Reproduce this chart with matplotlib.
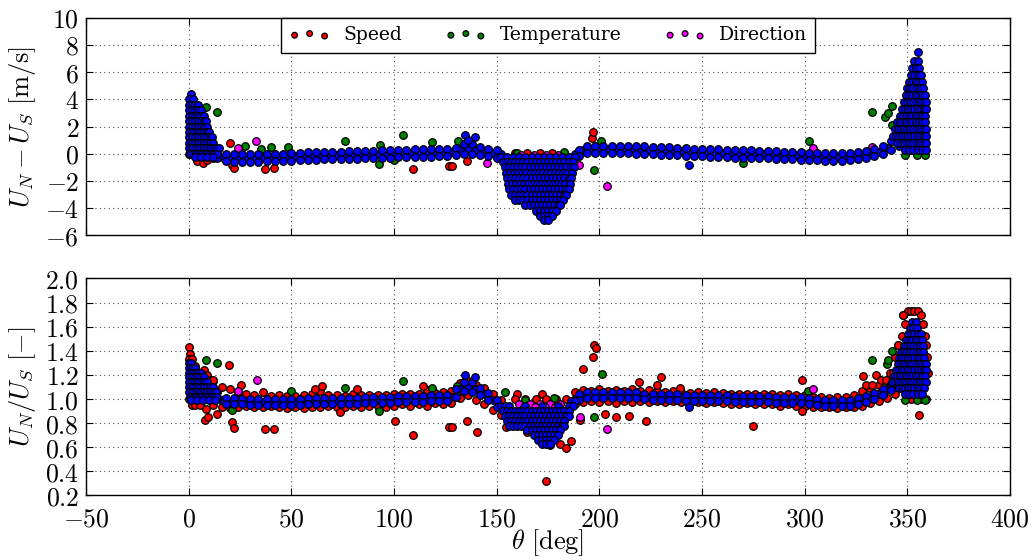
import matplotlib
matplotlib.use('Agg')
import matplotlib.pyplot as plt
from matplotlib.ticker import FuncFormatter, MultipleLocator

plt.rcParams['font.family'] = ['DejaVu Serif']
plt.rcParams['mathtext.fontset'] = 'cm'

# ---------------- data: band samples (theta in deg) ----------------
theta_a = [12, 16, 20, 24, 28, 32, 36, 40, 44, 48, 52, 56, 60, 64, 68, 72, 76, 80, 84, 88,
           92, 96, 100, 104, 108, 112, 116, 120, 124, 128, 132, 136, 140, 144, 148, 152,
           188, 192, 196, 200, 204, 208, 212, 216, 220, 224, 228, 232, 236, 240, 244, 248,
           252, 256, 260, 264, 268, 272, 276, 280, 284, 288, 292, 296, 300, 304, 308, 312,
           316, 320, 324, 328, 332, 336, 340, 344]
theta_b = [14, 18, 22, 26, 30, 34, 38, 42, 46, 50, 54, 58, 62, 66, 70, 74, 78, 82, 86, 90,
           94, 98, 102, 106, 110, 114, 118, 122, 126, 130, 134, 138, 142, 146, 150,
           190, 194, 198, 202, 206, 210, 214, 218, 222, 226, 230, 234, 238, 242, 246, 250,
           254, 258, 262, 266, 270, 274, 278, 282, 286, 290, 294, 298, 302, 306, 310, 314,
           318, 322, 326, 330, 334, 338, 342, 346]

# top panel: U_N - U_S [m/s]
diff_mid = [-0.15, -0.25, -0.3, -0.3, -0.3, -0.3, -0.28, -0.27, -0.25, -0.23, -0.2, -0.18,
            -0.15, -0.13, -0.12, -0.1, -0.08, -0.07, -0.05, -0.03, 0.0, 0.0, 0.02, 0.05, 0.05,
            0.07, 0.08, 0.1, 0.1, 0.12, 0.25, 0.35, 0.3, 0.15, 0.05, -0.05,
            0.0, 0.3, 0.35, 0.35, 0.35, 0.35, 0.33, 0.3, 0.3, 0.28, 0.25, 0.22, 0.2, 0.18, 0.15,
            0.12, 0.1, 0.08, 0.05, 0.03, 0.0, 0.0, -0.02, -0.05, -0.05, -0.08, -0.1, -0.12,
            -0.15, -0.18, -0.2, -0.22, -0.22, -0.2, -0.15, -0.08, 0.0, 0.15, 0.45, 0.9]
diff_hi = [0.2, -0.02, -0.05, -0.05, -0.05, -0.04, -0.03, -0.01, 0.01, 0.04, 0.06, 0.09, 0.11,
           0.13, 0.14, 0.16, 0.18, 0.19, 0.21, 0.23, 0.25, 0.26, 0.28, 0.3, 0.31, 0.32, 0.34,
           0.35, 0.36, 0.45, 0.75, 0.7, 0.5, 0.35, 0.25,
           0.3, 0.55, 0.6, 0.6, 0.6, 0.6, 0.57, 0.55, 0.54, 0.52, 0.48, 0.46, 0.44, 0.42, 0.38,
           0.36, 0.34, 0.31, 0.29, 0.26, 0.25, 0.24, 0.21, 0.2, 0.18, 0.16, 0.14, 0.11, 0.08,
           0.06, 0.03, 0.03, 0.04, 0.08, 0.14, 0.22, 0.35, 0.55, 0.9, 1.4]
diff_lo = [-0.35, -0.55, -0.6, -0.6, -0.6, -0.59, -0.57, -0.56, -0.54, -0.51, -0.49, -0.46,
           -0.44, -0.42, -0.41, -0.39, -0.37, -0.36, -0.34, -0.31, -0.3, -0.29, -0.26, -0.25,
           -0.24, -0.22, -0.21, -0.2, -0.19, -0.1, 0.0, 0.0, -0.08, -0.2, -0.3,
           -0.2, 0.05, 0.05, 0.05, 0.05, 0.04, 0.02, 0.0, -0.01, -0.04, -0.06, -0.09, -0.11,
           -0.14, -0.16, -0.19, -0.21, -0.24, -0.26, -0.29, -0.3, -0.31, -0.34, -0.35, -0.37,
           -0.39, -0.41, -0.44, -0.46, -0.49, -0.51, -0.52, -0.52, -0.48, -0.42, -0.34, -0.2,
           0.0, 0.3, 0.6]

# bottom panel: U_N / U_S [-]
ratio_mid = [1.05, 0.99, 0.98, 0.98, 0.975, 0.975, 0.975, 0.975, 0.975, 0.975, 0.975, 0.98,
             0.98, 0.98, 0.98, 0.985, 0.985, 0.985, 0.99, 0.99, 0.99, 0.99, 1.0, 1.0, 1.0, 1.0,
             1.01, 1.01, 1.01, 1.02, 1.08, 1.1, 1.08, 1.04, 0.99, 0.94,
             1.0, 1.03, 1.03, 1.03, 1.03, 1.03, 1.03, 1.03, 1.025, 1.02, 1.02, 1.02, 1.02,
             1.015, 1.01, 1.01, 1.01, 1.01, 1.01, 1.005, 1.0, 1.0, 1.0, 1.0, 0.995, 0.99, 0.99,
             0.99, 0.985, 0.98, 0.975, 0.97, 0.97, 0.97, 0.975, 0.99, 1.01, 1.04, 1.08, 1.12]
ratio_hi = [1.06, 1.01, 1.005, 1.0, 1.0, 1.0, 1.0, 1.0, 1.0, 1.0, 1.0, 1.005, 1.005, 1.005,
            1.005, 1.01, 1.01, 1.01, 1.015, 1.015, 1.015, 1.015, 1.025, 1.025, 1.025, 1.025,
            1.035, 1.035, 1.035, 1.08, 1.14, 1.14, 1.09, 1.05, 0.99,
            1.045, 1.055, 1.055, 1.055, 1.055, 1.055, 1.055, 1.055, 1.045, 1.045, 1.045, 1.045,
            1.045, 1.037, 1.035, 1.035, 1.035, 1.035, 1.035, 1.025, 1.025, 1.025, 1.025, 1.025,
            1.015, 1.015, 1.015, 1.015, 1.008, 1.003, 0.995, 0.995, 0.995, 0.995, 1.005, 1.025,
            1.05, 1.085, 1.125, 1.175]
ratio_lo = [1.0, 0.96, 0.955, 0.955, 0.95, 0.95, 0.95, 0.95, 0.95, 0.95, 0.95, 0.955, 0.955,
            0.955, 0.955, 0.96, 0.96, 0.96, 0.965, 0.965, 0.965, 0.965, 0.975, 0.975, 0.975,
            0.975, 0.985, 0.985, 0.985, 1.02, 1.07, 1.06, 1.03, 0.99, 0.93,
            0.995, 1.005, 1.005, 1.005, 1.005, 1.005, 1.005, 1.005, 1.0, 0.995, 0.995, 0.995,
            0.995, 0.987, 0.985, 0.985, 0.985, 0.985, 0.985, 0.975, 0.975, 0.975, 0.975, 0.975,
            0.965, 0.965, 0.965, 0.965, 0.958, 0.953, 0.945, 0.945, 0.945, 0.945, 0.955, 0.975,
            1.0, 1.035, 1.075, 1.125]
speed_ratio_hi = [1.15, 1.1, 1.08, 1.06, 1.04, 1.035, 1.055, 1.025, 1.03, 1.025, 1.025, 1.035,
                  1.045, 1.065, 1.035, 1.035, 1.025, 1.045, 1.035, 1.03, 1.035, 1.035, 1.045,
                  1.045, 1.04, 1.045, 1.075, 1.05, 1.055, 1.065, 1.13, 1.15, 1.12, 1.09, 1.04, 0.99,
                  1.06, 1.075, 1.07, 1.085, 1.07, 1.075, 1.065, 1.085, 1.07, 1.075, 1.065, 1.06,
                  1.065, 1.06, 1.05, 1.055, 1.05, 1.055, 1.05, 1.04, 1.045, 1.04, 1.04, 1.045,
                  1.04, 1.03, 1.04, 1.03, 1.03, 1.02, 1.02, 1.01, 1.02, 1.02, 1.035, 1.065, 1.09,
                  1.12, 1.15, 1.21]
speed_ratio_lo = [0.95, 0.935, 0.925, 0.935, 0.94, 0.935, 0.93, 0.94, 0.935, 0.925, 0.935,
                  0.925, 0.935, 0.935, 0.94, 0.935, 0.935, 0.945, 0.935, 0.945, 0.945, 0.935,
                  0.945, 0.955, 0.945, 0.955, 0.945, 0.965, 0.955, 0.965, 1.01, 1.03, 0.99, 0.96,
                  0.91, 0.87,
                  0.96, 0.975, 0.985, 0.975, 0.985, 0.965, 0.985, 0.975, 0.985, 0.975, 0.985,
                  0.975, 0.98, 0.975, 0.965, 0.975, 0.965, 0.975, 0.965, 0.96, 0.955, 0.965,
                  0.955, 0.96, 0.955, 0.945, 0.955, 0.945, 0.94, 0.935, 0.935, 0.935, 0.925,
                  0.935, 0.935, 0.945, 0.965, 0.985, 1.01, 1.04]

# ---------------- data: dense clouds, as rows (value: thetas) ----------------
# top panel, blue
spikeL_diff_lev = [4.4, 4.0, 3.6, 3.2, 2.8, 2.4, 2.0, 1.6, 1.2, 0.8, 0.4, 0.0, -0.25]
spikeL_diff_th = [[1], [0, 2], [0, 1.5, 3, 4.5], [0, 1.5, 3, 4.5, 6], [0, 1.5, 3, 4.5, 6, 7.5],
                  [0, 1.5, 3, 4.5, 6, 7.5, 8.5], [0, 1.5, 3, 4.5, 6, 7.5, 9],
                  [0, 1.5, 3, 4.5, 6, 7.5, 9, 10], [0, 1.5, 3, 4.5, 6, 7.5, 9, 10.5, 11.5],
                  [0, 1.5, 3, 4.5, 6, 7.5, 9, 10.5, 12],
                  [0, 1.5, 3, 4.5, 6, 7.5, 9, 10.5, 12, 13.5, 15],
                  [0.5, 2, 3.5, 5, 6.5, 8, 9.5, 11, 12.5, 14], [3, 6, 9, 12]]
spikeR_diff_lev = [7.5, 6.8, 6.3, 5.8, 5.3, 4.8, 4.3, 3.8, 3.3, 2.8, 2.3, 1.8, 1.3, 0.8, 0.3]
spikeR_diff_th = [[355], [353.5, 355], [352.5, 354, 355.5], [352, 353.5, 355, 356.5],
                  [351, 352.5, 354, 355.5, 357], [350, 351.5, 353, 354.5, 356, 357.5],
                  [349.5, 351, 352.5, 354, 355.5, 357, 358.5],
                  [348.5, 350, 351.5, 353, 354.5, 356, 357.5, 359],
                  [347.5, 349, 350.5, 352, 353.5, 355, 356.5, 358, 359],
                  [346.5, 348, 349.5, 351, 352.5, 354, 355.5, 357, 358.5],
                  [345, 346.5, 348, 349.5, 351, 352.5, 354, 355.5, 357, 358.5],
                  [344, 345.5, 347, 348.5, 350, 351.5, 353, 354.5, 356, 357.5, 359],
                  [343, 344.5, 346, 347.5, 349, 350.5, 352, 353.5, 355, 356.5, 358, 359],
                  [345, 347, 348.5, 350, 351.5, 353, 354.5, 356, 357.5, 359],
                  [349, 351, 353, 355, 357, 359]]
dip_diff_lev = [-0.25, -0.6, -1.0, -1.4, -1.8, -2.2, -2.6, -3.0, -3.4, -3.8, -4.2, -4.6, -4.9]
dip_diff_th = [[152, 155, 158, 161, 164, 167, 170, 173, 176, 179, 182, 185, 188],
               [153, 155, 157, 159, 161, 163, 165, 167, 169, 171, 173, 175, 177, 179, 181, 183, 185, 187],
               [154, 156, 158, 160, 162, 164, 166, 168, 170, 172, 174, 176, 178, 180, 182, 184, 186, 187.5],
               [154.5, 156.5, 158.5, 160.5, 162.5, 164.5, 166.5, 168.5, 170.5, 172.5, 174.5, 176.5,
                178.5, 180.5, 182.5, 184.5, 186.5],
               [155, 157, 159, 161, 163, 165, 167, 169, 171, 173, 175, 177, 179, 181, 183, 185, 186],
               [155.5, 157.5, 159.5, 161.5, 163.5, 165.5, 167.5, 169.5, 171.5, 173.5, 175.5, 177.5,
                179.5, 181.5, 183.5, 185.5],
               [156, 158, 160, 162, 164, 166, 168, 170, 172, 174, 176, 178, 180, 182, 184, 185],
               [157, 159, 161, 163, 165, 167, 169, 171, 173, 175, 177, 179, 181, 183, 184],
               [159, 161, 163, 165, 167, 169, 171, 173, 175, 177, 179, 181, 182.5],
               [164, 166, 168, 170, 172, 174, 176, 178, 180, 181],
               [169, 171, 173, 175, 177, 179],
               [171, 173, 175, 177], [173, 175]]
# bottom panel, blue
spikeL_ratio_lev = [1.30, 1.26, 1.22, 1.18, 1.14, 1.10, 1.06, 1.02, 0.99]
spikeL_ratio_th = [[0, 1.2], [0, 1.5, 3], [0, 1.5, 3, 4.5, 6], [0, 1.5, 3, 4.5, 6, 7.5],
                   [0, 1.5, 3, 4.5, 6, 7.5, 9], [0, 1.5, 3, 4.5, 6, 7.5, 9, 10.5, 12],
                   [0, 1.5, 3, 4.5, 6, 7.5, 9, 10.5, 12, 13.5],
                   [0.5, 2, 3.5, 5, 6.5, 8, 9.5, 11, 12.5, 14], [1, 4, 7, 10, 13]]
spikeR_ratio_lev = [1.64, 1.59, 1.54, 1.49, 1.44, 1.39, 1.34, 1.29, 1.24, 1.19, 1.14, 1.09, 1.04]
spikeR_ratio_th = [[352.5, 354], [351.5, 353, 354.5], [350.5, 352, 353.5, 355, 356.5],
                   [349.5, 351, 352.5, 354, 355.5, 357],
                   [348.5, 350, 351.5, 353, 354.5, 356, 357.5],
                   [347, 348.5, 350, 351.5, 353, 354.5, 356, 357.5],
                   [346, 347.5, 349, 350.5, 352, 353.5, 355, 356.5, 358],
                   [345.5, 347, 348.5, 350, 351.5, 353, 354.5, 356, 357.5, 359],
                   [344.5, 346, 347.5, 349, 350.5, 352, 353.5, 355, 356.5, 358, 359],
                   [343.5, 345, 346.5, 348, 349.5, 351, 352.5, 354, 355.5, 357, 358.5],
                   [342.5, 344, 345.5, 347, 348.5, 350, 351.5, 353, 354.5, 356, 357.5, 359],
                   [346, 347.5, 349, 350.5, 352, 353.5, 355, 356.5, 358],
                   [349, 351, 353, 355, 357]]
dip_ratio_lev = [0.98, 0.94, 0.90, 0.86, 0.82, 0.78, 0.74, 0.70, 0.66, 0.63]
dip_ratio_th = [[186, 188], [152, 154, 156, 164, 172, 180, 185, 187],
                [153, 155, 157, 159, 161, 163, 165, 167, 169, 171, 173, 175, 177, 179, 181, 183, 185],
                [154, 156, 158, 160, 162, 164, 166, 168, 170, 172, 174, 176, 178, 180, 182, 184, 185],
                [155, 157, 159, 161, 163, 165, 167, 169, 171, 173, 175, 177, 179, 181, 183],
                [156, 158, 160, 162, 164, 166, 168, 170, 172, 174, 176, 178, 180, 182, 183],
                [165, 167, 169, 171, 173, 175, 177, 179, 181],
                [168, 170, 172, 174, 176, 178, 180],
                [170, 172, 174, 176, 178], [172, 174, 176]]

# speed (red) clouds
speed_diff_lev = [0.05]
speed_diff_th = [[159, 165, 171, 177, 183]]
speed_ratio_lev = [1.73, 1.70, 1.62, 1.52, 1.45, 1.35, 1.22, 1.16, 1.12, 1.04, 1.0]
speed_ratio_th = [[350.5, 352, 353.5, 355], [348, 356.5], [349, 357.5], [347.5, 358.5],
                  [345.5, 359], [344, 359.5], [341.5, 343, 360], [337, 339.5], [330, 333],
                  [160, 172], [159, 164, 169, 174, 179, 184, 352, 356, 359]]
# direction (magenta) clouds
dir_diff_lev = [-0.1]
dir_diff_th = [[162, 168, 174, 180]]
dir_ratio_lev = [0.96, 0.93]
dir_ratio_th = [[161, 166, 171, 176, 181], [163.5, 168.5, 173.5, 178.5]]

# ---------------- data: scattered points ----------------
speed_diff_out_t = [4, 7, 9, 12, 20.1, 21, 22, 37.1, 41.8, 109.5, 126.9, 128.2, 135.5, 185,
                    196.6, 197.1, 350, 352, 355, 357]
speed_diff_out_v = [-0.55, -0.7, -0.45, -0.3, 0.79, -0.8, -1.05, -1.13, -1.05, -1.1, -0.93,
                    -0.93, -0.56, -1.54, 1.15, 1.6, 0.5, 0.3, 0.4, 0.2]
temp_diff_out_t = [0, 3, 8.3, 13.7, 27.3, 35.4, 40, 48.4, 76.3, 92.6, 93.3, 100.2, 104.6, 118.4,
                   131.4, 160, 183, 197.5, 201, 270, 302, 332.8, 339, 340.5, 342.4, 342.6,
                   349, 354.6, 358.4]
temp_diff_out_v = [0.0, -0.1, 3.4, 3.1, 0.6, 0.35, 0.5, 0.5, 0.9, -0.76, 0.66, -0.44, 1.4, 0.83,
                   0.9, 0.05, 0.1, -1.22, 0.9, -0.7, 0.9, 3.1, 2.7, 3.0, 3.5, 2.1,
                   -0.1, -0.1, -0.1]
dir_diff_out_t = [2.3, 24, 33, 145.2, 190, 203.6, 304, 332.8, 351.5]
dir_diff_out_v = [0.17, 0.4, 0.9, -0.68, -0.8, -2.4, 0.4, 0.5, 0.35]
blue_diff_out_t = [134.5, 139.5, 136, 243.8]
blue_diff_out_v = [1.35, 1.25, 1.0, -0.8]

speed_ratio_out_t = [0.3, 0.5, 0, 1.5, 3, 7.5, 9, 10.5, 12, 1.5, 3, 5.3, 7.8, 9.2, 8.3, 13.7,
                     19.8, 21, 22, 25.7, 37, 41.8, 61.5, 64.8, 73.8, 81.9, 100.5, 109.5, 114.3,
                     127, 128.2, 135.5, 140.4, 154.6, 165, 174.1, 176, 181, 183.9, 186.3, 190.6,
                     192.2, 196.7, 197.4, 198.2, 202.9, 208.2, 214.7, 219.5, 222.8, 228, 229.9,
                     239.4, 275, 298.6, 298.7, 328.4, 334.9, 345.4, 348, 355.6]
speed_ratio_out_v = [1.43, 1.37, 1.33, 1.33, 1.27, 1.24, 1.2, 1.16, 1.16, 0.95, 0.95, 0.95,
                     0.83, 0.85, 0.92, 0.88, 1.28, 0.81, 0.76, 1.12, 0.75, 0.75, 1.08, 1.11,
                     0.89, 1.08, 0.82, 0.7, 1.11, 0.77, 0.77, 0.82, 0.73, 0.77, 0.73, 0.32,
                     0.62, 0.63, 0.59, 0.65, 0.83, 1.25, 1.35, 1.45, 1.42, 0.88, 0.85, 0.86,
                     1.14, 0.82, 1.12, 1.18, 1.09, 0.78, 0.9, 1.16, 1.19, 1.2, 1.45, 1.7, 0.87]
temp_ratio_out_t = [0, 6.3, 8.3, 13.7, 20.9, 50, 76.3, 92.9, 104.6, 118.4, 130.9, 154, 164, 178,
                    197.6, 201.2, 301.5, 332.8, 340.1, 340.6, 342.4, 349, 354.3, 354.7, 358.4]
temp_ratio_out_v = [1.0, 1.0, 1.32, 1.3, 0.91, 1.07, 1.09, 0.9, 1.15, 1.09, 1.11, 1.06, 0.99,
                    1.01, 0.85, 1.21, 1.07, 1.32, 1.29, 1.32, 1.4, 0.99, 1.09, 0.99, 0.99]
dir_ratio_out_t = [2.3, 3, 24, 33.2, 190.6, 203.7, 304.1, 351.5]
dir_ratio_out_v = [1.0, 1.03, 1.07, 1.16, 0.85, 0.75, 1.08, 1.08]
blue_ratio_out_t = [134.7, 139.5, 243.8]
blue_ratio_out_v = [1.2, 1.18, 0.93]

x_ticks = [-50, 0, 50, 100, 150, 200, 250, 300, 350, 400]
legend_labels = ['Speed', 'Temperature', 'Direction']


def rows(levels, thetas):
    xs, ys = [], []
    for lev, th in zip(levels, thetas):
        xs += list(th)
        ys += [lev] * len(th)
    return xs, ys


RED, GREEN, MAG, BLUE = '#ff0000', '#007f00', '#ff00ff', '#0000ff'
S, LW = 30, 0.9

fig = plt.figure(figsize=(10.35, 5.6), dpi=100)
ax1 = fig.add_axes([0.0831, 0.5798, 0.8927, 0.3886])
ax2 = fig.add_axes([0.0831, 0.1152, 0.8927, 0.3875])


def draw(ax, red, green, mag, blue):
    hs = []
    for (xs, ys), c, lab in zip([red, green, mag], [RED, GREEN, MAG], legend_labels):
        hs.append(ax.scatter(xs, ys, s=S, c=c, edgecolors='k', linewidths=LW, label=lab, zorder=3))
    ax.scatter(blue[0], blue[1], s=S, c=BLUE, edgecolors='k', linewidths=LW, zorder=4)
    return hs

# top panel
r = rows(speed_diff_lev, speed_diff_th)
red1 = (speed_diff_out_t + r[0], speed_diff_out_v + r[1])
g1 = (temp_diff_out_t, temp_diff_out_v)
m = rows(dir_diff_lev, dir_diff_th)
m1 = (dir_diff_out_t + m[0], dir_diff_out_v + m[1])
bx = theta_a + theta_b + theta_b + blue_diff_out_t
by = diff_mid + diff_hi + diff_lo + blue_diff_out_v
for lev, th in [(spikeL_diff_lev, spikeL_diff_th), (spikeR_diff_lev, spikeR_diff_th),
                (dip_diff_lev, dip_diff_th)]:
    a, b = rows(lev, th)
    bx += a
    by += b
handles = draw(ax1, red1, g1, m1, (bx, by))

# bottom panel
r = rows(speed_ratio_lev, speed_ratio_th)
red2 = (theta_a + theta_a + speed_ratio_out_t + r[0],
        speed_ratio_hi + speed_ratio_lo + speed_ratio_out_v + r[1])
g2 = (temp_ratio_out_t, temp_ratio_out_v)
m = rows(dir_ratio_lev, dir_ratio_th)
m2 = (dir_ratio_out_t + m[0], dir_ratio_out_v + m[1])
bx = theta_a + theta_b + theta_b + blue_ratio_out_t
by = ratio_mid + ratio_hi + ratio_lo + blue_ratio_out_v
for lev, th in [(spikeL_ratio_lev, spikeL_ratio_th), (spikeR_ratio_lev, spikeR_ratio_th),
                (dip_ratio_lev, dip_ratio_th)]:
    a, b = rows(lev, th)
    bx += a
    by += b
draw(ax2, red2, g2, m2, (bx, by))

for ax in (ax1, ax2):
    ax.set_xlim(-50, 400)
    ax.set_xticks(x_ticks)
    ax.grid(True, color='0.3', linestyle=(0, (1, 3)), linewidth=0.8)
    ax.set_axisbelow(True)
    ax.tick_params(direction='in', top=True, right=True, length=5, width=0.8,
                   labelsize=18.5, pad=5)
    for sp in ax.spines.values():
        sp.set_linewidth(1.0)

ax1.set_ylim(-6, 10)
ax1.yaxis.set_major_locator(MultipleLocator(2))
ax1.yaxis.set_major_formatter(FuncFormatter(lambda v, p: '$%d$' % round(v)))
ax1.tick_params(labelbottom=False)
ax2.set_ylim(0.2, 2.0)
ax2.set_yticks([0.2, 0.4, 0.6, 0.8, 1.0, 1.2, 1.4, 1.6, 1.8, 2.0])
ax2.yaxis.set_major_formatter(FuncFormatter(lambda v, p: '$%.1f$' % v))
ax2.xaxis.set_major_formatter(FuncFormatter(lambda v, p: '$%d$' % round(v)))
ax2.tick_params(axis='x', pad=8)

ax1.set_ylabel(r'$U_N - U_S\ [\mathrm{m/s}]$', fontsize=19, labelpad=5)
ax2.set_ylabel(r'$U_N/U_S\ [\mathrm{-}]$', fontsize=19, labelpad=5)
ax2.set_xlabel(r'$\theta\ [\mathrm{deg}]$', fontsize=19)
ax2.xaxis.label.set_va('center')
ax2.xaxis.set_label_coords(0.5, -0.215)
fig.align_ylabels([ax1, ax2])

leg = ax1.legend(handles=handles, loc='upper center', ncol=3, scatterpoints=3,
                 scatteryoffsets=[0.375, 0.5, 0.3125], markerscale=0.75, fontsize=13.5,
                 frameon=True, fancybox=False, framealpha=1, edgecolor='k',
                 borderaxespad=0.0, columnspacing=2.3, handletextpad=0.7,
                 borderpad=0.45, handlelength=2.2)
leg.get_frame().set_linewidth(1.0)

fig.savefig('out.png', dpi=100)
